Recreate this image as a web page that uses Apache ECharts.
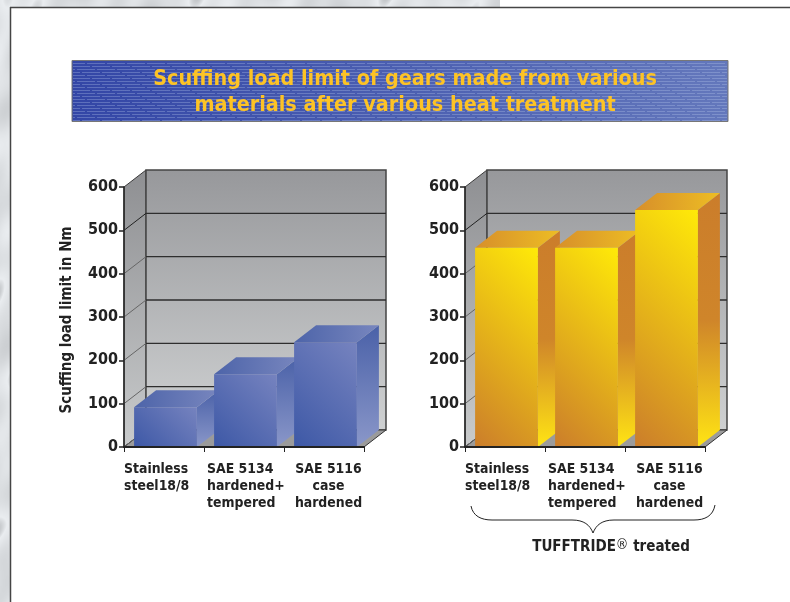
<!DOCTYPE html>
<html><head><meta charset="utf-8">
<style>html,body{margin:0;padding:0;background:#fff}#c{width:790px;height:602px}</style>
<script src="https://cdn.jsdelivr.net/npm/echarts@6/dist/echarts.min.js"></script>
</head><body><div id="c"></div>
<script>
const categories = ['Stainless\nsteel18/8', 'SAE 5134\nhardened+\ntempered', 'SAE 5116\ncase\nhardened'];
const untreatedValues = [92, 168, 242];
const treatedValues = [460, 460, 547];
const yTicks = [0, 100, 200, 300, 400, 500, 600];
const titleLines = ['Scuffing load limit of gears made from various', 'materials after various heat treatment'];
const yName = 'Scuffing load limit in Nm';

const FONT = '"DejaVu Sans Condensed","DejaVu Sans"';
const DX = 22, DY = 17;   // 3D depth of the box

function lg(x0, y0, x1, y1, a, b, mid) {
  const s = mid ? [{offset:0,color:a},{offset:mid[0],color:mid[1]},{offset:1,color:b}] : [{offset:0,color:a},{offset:1,color:b}];
  return {type:'linear', x:x0, y:y0, x2:x1, y2:y1, colorStops:s};
}
const blue = {
  frontA:'#3d58a6', frontB:'#7683bf',
  side: lg(0,0,0,1,'#4a61a8','#8a97c9'),
  top: lg(0,0.5,1,0.5,'#4d64a9','#7886be')
};
const gold = {
  frontA:'#cb7d2b', frontB:'#ffea08',
  side: lg(0,0,0,1,'#cb7d2b','#ffe414',[0.5,'#cf852a']),
  top: lg(0,0.5,1,0.5,'#d78f2a','#edbd24')
};

function wallsItem(params, api) {
  const cs = params.coordSys;
  const x0 = cs.x, x1 = cs.x + cs.width, yB = cs.y + cs.height, yT = cs.y;
  const kids = [];
  kids.push({type:'polygon', shape:{points:[[x0,yT],[x0+DX,yT-DY],[x0+DX,yB-DY],[x0,yB]]},
    style:{fill:lg(0,0,0,1,'#8e8f92','#c9cbcc'), stroke:'#3a3a3a', lineWidth:1}});
  kids.push({type:'rect', shape:{x:x0+DX,y:yT-DY,width:cs.width,height:cs.height},
    style:{fill:lg(0,0,0,1,'#97989b','#cfd1d2'), stroke:'#444', lineWidth:1.5}});
  kids.push({type:'polygon', shape:{points:[[x0,yB],[x0+DX,yB-DY],[x1+DX,yB-DY],[x1,yB]]},
    style:{fill:'#9b9b9b', stroke:'#333', lineWidth:1}});
  yTicks.forEach(t => {
    const y = api.coord([0,t])[1];
    if (t > 0 && t < 600) {
      kids.push({type:'line', shape:{x1:x0+DX,y1:y-DY,x2:x1+DX,y2:y-DY}, style:{stroke:'#2e2e2e',lineWidth:1.3}});
    }
    if (t < 600) kids.push({type:'line', shape:{x1:x0,y1:y,x2:x0+DX,y2:y-DY},
      style:{stroke: t===500 ? '#222' : '#666', lineWidth:1}});
  });
  return {type:'group', children:kids};
}

function barItem(pal) {
  return function (params, api) {
    const c = api.coord([api.value(0), api.value(1)]);
    const base = api.coord([api.value(0), 0])[1];
    const w = api.size([1,0])[0] * 0.785;
    const x = c[0] - w/2 + 1.5, y = c[1], h = base - y;
    const t = (w + h) / 2;
    const front = {type:'linear', global:true, x:x, y:base, x2:x+t, y2:base-t,
      colorStops:[{offset:0,color:pal.frontA},{offset:1,color:pal.frontB}]};
    return {type:'group', children:[
      {type:'polygon', shape:{points:[[x+w,y],[x+w+DX,y-DY],[x+w+DX,base-DY],[x+w,base]]}, style:{fill:pal.side}},
      {type:'polygon', shape:{points:[[x,y],[x+DX,y-DY],[x+w+DX,y-DY],[x+w,y]]}, style:{fill:pal.top}},
      {type:'rect', shape:{x:x,y:y,width:w,height:h}, style:{fill:front}}
    ]};
  };
}

// marble texture for the page edge
function marble() {
  const cv = document.createElement('canvas'); cv.width = 500; cv.height = 602;
  const g = cv.getContext('2d'); const im = g.createImageData(500,602);
  for (let y=0;y<602;y++) for (let x=0;x<500;x++) {
    let n = Math.sin(x*0.07+y*0.05)+Math.sin(x*0.031-y*0.083+1.3)+Math.sin((x+y)*0.13+2.1)*0.6+Math.sin(y*0.029+x*0.2)*0.8;
    let v = 222 + n*6; if (n>1.9) v -= (n-1.9)*40;
    const i=(y*500+x)*4; im.data[i]=v; im.data[i+1]=v+3; im.data[i+2]=v+6; im.data[i+3]=255;
  }
  g.putImageData(im,0,0); return cv;
}
function hatch() {
  const cv = document.createElement('canvas'); cv.width = 20; cv.height = 12;
  const g = cv.getContext('2d');
  g.fillStyle='rgba(190,205,240,0.30)';
  [0,5,10,15].forEach((s,i)=>{
    const y = i*3;
    g.fillRect(0,y,20,1);
    g.clearRect(s,y,2,1);
  });
  return cv;
}
function brace() {
  const st = {fill:null, stroke:'#222', lineWidth:1};
  const b = (x1,y1,c1x,c1y,c2x,c2y,x2,y2)=>({type:'bezierCurve', silent:true,
    shape:{x1,y1,cpx1:c1x,cpy1:c1y,cpx2:c2x,cpy2:c2y,x2,y2}, style:st});
  const l = (x1,x2,y)=>({type:'line', silent:true, shape:{x1,y1:y,x2,y2:y}, style:st});
  return [b(471,506,473,516,481,520,492,520), l(492,572,520), b(572,520,584,520,590,525,593,533),
          b(593,533,596,525,602,520,614,520), l(614,694,520), b(694,520,705,520,713,516,715,505)];
}

const marbleCv = marble();
const graphic = [
  {type:'rect', silent:true, z:-5, shape:{x:0,y:0,width:10,height:602}, style:{fill:{image:marbleCv,repeat:'repeat'}}},
  {type:'rect', silent:true, z:-5, shape:{x:0,y:0,width:500,height:7}, style:{fill:{image:marbleCv,repeat:'repeat'}}},
  {type:'line', silent:true, shape:{x1:10,y1:7.5,x2:790,y2:7.5}, style:{stroke:'#454545',lineWidth:1.5}},
  {type:'line', silent:true, shape:{x1:10.5,y1:7,x2:10.5,y2:602}, style:{stroke:'#454545',lineWidth:1.5}},
  {type:'rect', silent:true, z:-2, shape:{x:72,y:60.5,width:656,height:61}, style:{fill:lg(0,1,1,0,'#3346a6','#6478bc'), stroke:'#777', lineWidth:1}},
  {type:'rect', silent:true, z:-1, shape:{x:73,y:61,width:654,height:60}, style:{fill:{image:hatch(),repeat:'repeat'}}},
  ...brace(),
  {type:'text', silent:true, x:611, y:547.5, style:{
    text:'{a|TUFFTRIDE}{s|®}{a| treated}', align:'center', verticalAlign:'middle',
    rich:{a:{font:'bold 15px '+FONT, fill:'#222'}, s:{font:'14px '+FONT, fill:'#222', verticalAlign:'top', padding:[0,0,4,0]}}
  }}
];

const LABEL = {fontFamily:FONT,fontWeight:'bold',fontSize:13.9,lineHeight:17,color:'#222'};
function catAxis(idx) {
  return {
    type:'category', gridIndex:idx, data:categories, z:10,
    axisLine:{lineStyle:{color:'#222',width:2}},
    axisTick:{show:true, length:5, lineStyle:{color:'#222',width:1}, alignWithLabel:false},
    axisLabel:{
      margin:14, interval:0, ...LABEL,
      formatter:(v,i)=>v.split('\n').map(l=>`{c${i}|${l}}`).join('\n'),
      rich:{
        c0:{width:80,align:'left',...LABEL},
        c1:{width:74,align:'left',...LABEL},
        c2:{width:80,align:'center',padding:[0,0,0,9],...LABEL}
      }
    }
  };
}
function valAxis(idx, name) {
  return {
    type:'value', gridIndex:idx, min:0, max:600, interval:100, z:10,
    name:name, nameLocation:'middle', nameGap:49,
    nameTextStyle:{color:'#222', fontFamily:FONT, fontWeight:'bold', fontSize:15, padding:[0,6,0,0]},
    axisLine:{show:true,lineStyle:{color:'#222',width:1.5}},
    axisTick:{show:true,length:5,lineStyle:{color:'#222',width:1.5}},
    axisLabel:{margin:6,color:'#222',fontFamily:FONT,fontWeight:'bold',fontSize:16},
    splitLine:{show:false}
  };
}
function makeSeries(idx, values, pal) {
  return [
    {type:'custom', xAxisIndex:idx, yAxisIndex:idx, z:1, silent:true, clip:false, renderItem:wallsItem, data:[[0,0]], encode:{x:0,y:1}},
    {type:'custom', xAxisIndex:idx, yAxisIndex:idx, z:3, silent:true, clip:false, renderItem:barItem(pal),
     data:values.map((v,i)=>[i,v]), encode:{x:0,y:1}}
  ];
}

const chart = echarts.init(document.getElementById('c'), null, {renderer:'canvas'});
chart.setOption({
  animation:false,
  backgroundColor:'#fff',
  title:{text:titleLines.join('\n'), left:400, top:61, textAlign:'center',
    textStyle:{color:'#fdc325',fontFamily:FONT,fontWeight:'bold',fontSize:21.4,lineHeight:26}},
  grid:[
    {left:124,top:187,width:240,height:260},
    {left:465,top:187,width:240,height:260}
  ],
  xAxis:[catAxis(0),catAxis(1)],
  yAxis:[valAxis(0,yName),valAxis(1,'')],
  series:[...makeSeries(0,untreatedValues,blue),...makeSeries(1,treatedValues,gold)],
  graphic:graphic
});
</script></body></html>
